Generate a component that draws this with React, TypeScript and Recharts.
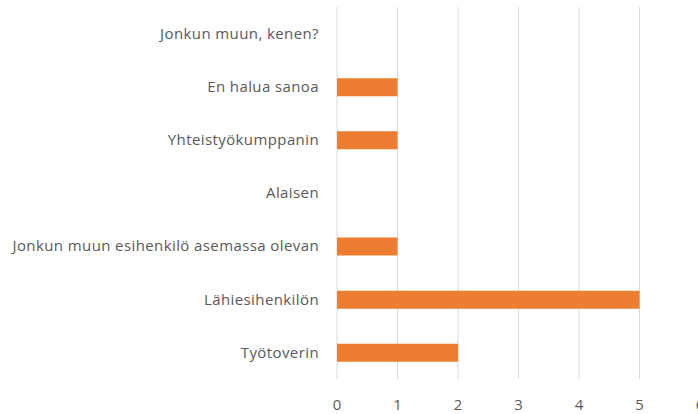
import { BarChart, Bar, XAxis, YAxis, CartesianGrid } from 'recharts';

const categories = [
    'Jonkun muun, kenen?',
    'En halua sanoa',
    'Yhteistyökumppanin',
    'Alaisen',
    'Jonkun muun esihenkilö asemassa olevan',
    'Lähiesihenkilön',
    'Työtoverin',
];
const counts = [0, 1, 1, 0, 1, 5, 2];
const xTicks = [0, 1, 2, 3, 4, 5, 6];

const data = categories.map((name, i) => ({ name, value: counts[i] }));

const font = '"Open Sans", sans-serif';
const yTickStyle = { fill: '#595959', fontSize: 15, fontFamily: font, letterSpacing: 0.4 };
const xTickStyle = { fill: '#595959', fontSize: 15, fontFamily: font };

export default function App() {
    return (
        <div style={{ position: 'fixed', left: 0, top: 0, width: 698, height: 414, overflow: 'hidden', background: '#fff' }}>
            <BarChart
                width={720}
                height={414}
                data={data}
                layout="vertical"
                margin={{ top: 7, right: 20, left: 0, bottom: 0 }}
            >
                <CartesianGrid horizontal={false} stroke="#d9d9d9" />
                <XAxis
                    type="number"
                    domain={[0, 6]}
                    ticks={xTicks}
                    tickLine={false}
                    axisLine={false}
                    tick={xTickStyle}
                    tickMargin={14}
                    height={35}
                    interval={0}
                />
                <YAxis
                    type="category"
                    dataKey="name"
                    width={337}
                    tickLine={false}
                    axisLine={false}
                    tick={yTickStyle}
                    tickMargin={12}
                    interval={0}
                />
                <Bar dataKey="value" fill="#ED7D31" barSize={18} isAnimationActive={false} />
            </BarChart>
        </div>
    );
}
